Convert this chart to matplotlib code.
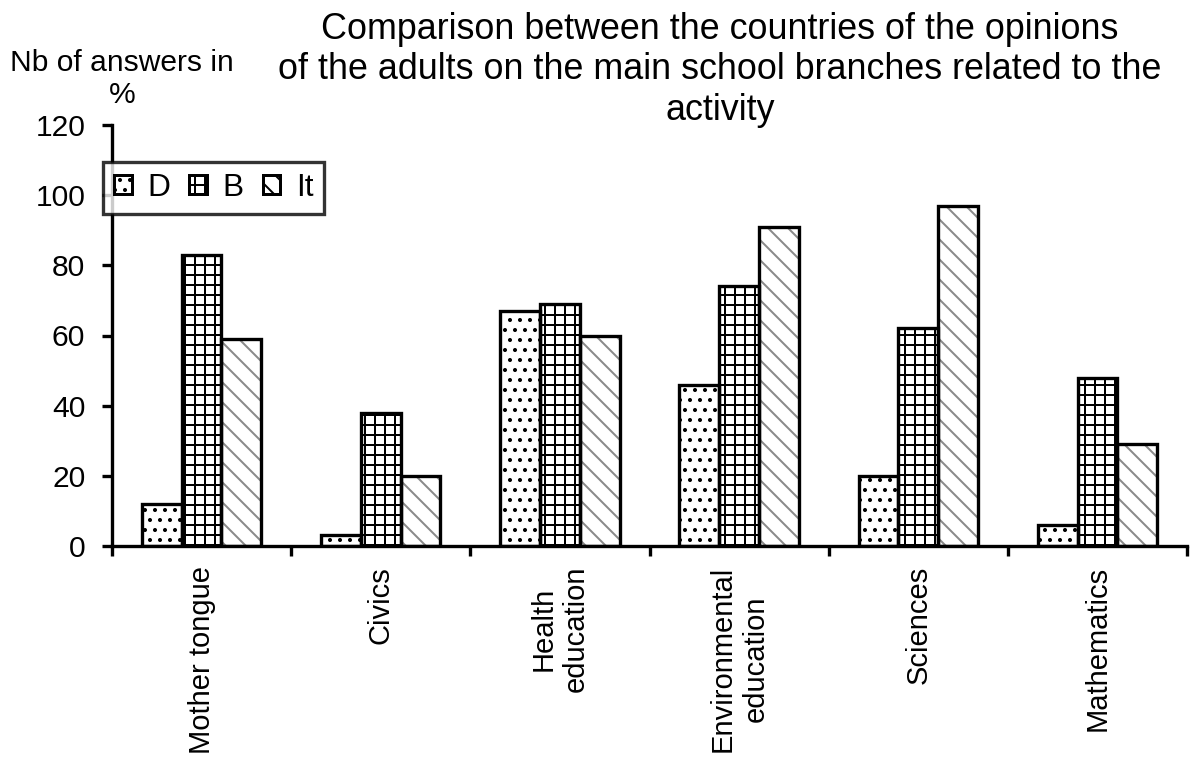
import matplotlib
matplotlib.use("Agg")
import matplotlib.pyplot as plt
import numpy as np
from matplotlib.patches import Patch

# Survey results (% of answers) per school branch and country
categories = ["Mother tongue", "Civics", "Health\neducation",
              "Environmental\neducation", "Sciences", "Mathematics"]
series_names = ["D", "B", "It"]
values_d = [12, 3, 67, 46, 20, 6]
values_b = [83, 38, 69, 74, 62, 48]
values_it = [59, 20, 60, 91, 97, 29]
y_ticks = [0, 20, 40, 60, 80, 100, 120]

plt.rcParams['font.family'] = ['Liberation Sans', 'DejaVu Sans']
plt.rcParams['hatch.linewidth'] = 1.2

DPI = 120
fig = plt.figure(figsize=(1193 / DPI, 760 / DPI), dpi=DPI)
ax = fig.add_axes([112 / 1193, 1 - 546 / 760, (1187 - 112) / 1193, (546 - 125) / 760])

x = np.arange(len(categories))
width = 0.222
styles = [
    (values_d, -width, "..", "black"),
    (values_b, 0.0, "++", "black"),
    (values_it, width, "\\\\", "#8a8a8a"),
]
for vals, off, hatch, hcol in styles:
    ax.bar(x + off, vals, width, facecolor="white", edgecolor=hcol,
           hatch=hatch, linewidth=0, zorder=2)
    ax.bar(x + off, vals, width, facecolor="none", edgecolor="black",
           linewidth=2.0, zorder=3)

ax.set_xlim(-0.5, len(categories) - 0.5)
ax.set_ylim(0, 120)
ax.set_yticks(y_ticks)
ax.set_yticklabels([str(v) for v in y_ticks], fontsize=18)
ax.tick_params(axis='y', direction='out', length=6, width=2.0, pad=10)

# Category labels at group centres, tick marks at group boundaries
ax.set_xticks(x)
ax.set_xticklabels(categories, rotation=90, fontsize=17.5, va='top',
                   ha='center', multialignment='center')
ax.tick_params(axis='x', which='major', length=0, pad=12)
ax.set_xticks(np.arange(-0.5, len(categories)), minor=True)
ax.tick_params(axis='x', which='minor', direction='out', length=6, width=2.0)

for side in ("top", "right"):
    ax.spines[side].set_visible(False)
for side in ("left", "bottom"):
    ax.spines[side].set_linewidth(2.0)

# Legend
handles = [
    Patch(facecolor="white", edgecolor="black", hatch="..", linewidth=1.8),
    Patch(facecolor="white", edgecolor="black", hatch="++", linewidth=1.8),
    Patch(facecolor="white", edgecolor="black", hatch="\\\\", linewidth=1.8),
]
leg = fig.legend(handles, series_names, loc='upper left',
                 bbox_to_anchor=(103 / 1193, 1 - 162 / 760),
                 ncol=3, fontsize=19, frameon=True, fancybox=False,
                 handlelength=0.55, handleheight=0.55, handletextpad=0.5,
                 columnspacing=0.6, borderpad=0.35, borderaxespad=0)
leg.get_frame().set_edgecolor("black")
leg.get_frame().set_linewidth(2.0)

# Titles
fig.text(720 / 1193, 1 - 12 / 760,
         "Comparison between the countries of the opinions\n"
         "of the adults on the main school branches related to the\n"
         "activity",
         ha='center', va='top', fontsize=21.5, linespacing=1.2)
fig.text(122 / 1193, 1 - 79 / 760, "Nb of answers in\n%",
         ha='center', va='center', fontsize=18, linespacing=1.15)

fig.savefig("out.png", dpi=DPI)
